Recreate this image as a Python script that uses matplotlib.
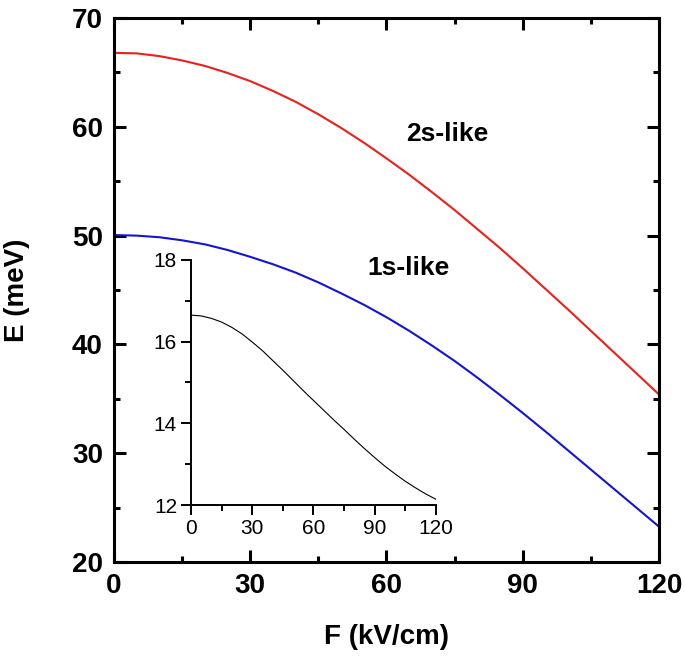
import numpy as np
import matplotlib
matplotlib.use("Agg")
import matplotlib.pyplot as plt
from matplotlib.ticker import MultipleLocator

plt.rcParams['font.family'] = ['Liberation Sans', 'DejaVu Sans']

# field values (kV/cm)
F = [0, 5, 10, 15, 20, 25, 30, 35, 40, 45, 50, 55, 60,
     65, 70, 75, 80, 85, 90, 95, 100, 105, 110, 115, 120]
# 2s-like and 1s-like energies (meV)
E_2s = [66.8, 66.75, 66.5, 66.1, 65.6, 64.95, 64.2, 63.3, 62.3, 61.15, 59.9, 58.55, 57.1,
        55.6, 54.0, 52.35, 50.6, 48.85, 47.0, 45.1, 43.2, 41.25, 39.3, 37.35, 35.4]
E_1s = [50.05, 50.0, 49.85, 49.57, 49.2, 48.68, 48.05, 47.37, 46.6, 45.7, 44.7, 43.65, 42.5,
        41.25, 39.9, 38.48, 36.95, 35.35, 33.7, 32.0, 30.25, 28.5, 26.75, 25.0, 23.25]
# inset curve
E_ins = [16.65, 16.63, 16.57, 16.48, 16.35, 16.19, 15.99, 15.78, 15.54, 15.3, 15.05, 14.8, 14.56,
         14.32, 14.08, 13.85, 13.61, 13.38, 13.16, 12.95, 12.76, 12.58, 12.42, 12.27, 12.14]

fig = plt.figure(figsize=(6.85, 6.58), dpi=100)
ax = fig.add_axes([0.1664, 0.1459, 0.7956, 0.8267])

ax.plot(F, E_2s, color='#e8211c', lw=1.5)
ax.plot(F, E_1s, color='#1414d2', lw=1.5)

ax.set_xlim(0, 120)
ax.set_ylim(20, 70)
ax.xaxis.set_major_locator(MultipleLocator(30))
ax.xaxis.set_minor_locator(MultipleLocator(15))
ax.yaxis.set_major_locator(MultipleLocator(10))
ax.yaxis.set_minor_locator(MultipleLocator(5))
ax.tick_params(which='both', direction='in', top=True, right=True, width=2.2)
ax.tick_params(which='major', length=8.5, labelsize=20, pad=8)
ax.tick_params(which='minor', length=4.5)
for s in ax.spines.values():
    s.set_linewidth(2.2)
for lab in ax.get_xticklabels() + ax.get_yticklabels():
    lab.set_fontweight('bold')

ax.set_xlabel('F (kV/cm)', fontsize=20, fontweight='bold', labelpad=18)
ax.set_ylabel('E (meV)', fontsize=20, fontweight='bold', labelpad=30)

ax.text(73.3, 59.3, '2s-like', fontsize=19, fontweight='bold', ha='center', va='center')
ax.text(64.8, 47.0, '1s-like', fontsize=19, fontweight='bold', ha='center', va='center')

# inset
ins = fig.add_axes([0.2788, 0.2325, 0.3577, 0.3724])
ins.plot(F, E_ins, color='black', lw=0.8)
ins.set_xlim(0, 120)
ins.set_ylim(12, 18)
ins.xaxis.set_major_locator(MultipleLocator(30))
ins.xaxis.set_minor_locator(MultipleLocator(15))
ins.yaxis.set_major_locator(MultipleLocator(2))
ins.yaxis.set_minor_locator(MultipleLocator(1))
ins.spines['top'].set_visible(False)
ins.spines['right'].set_visible(False)
for s in ['left', 'bottom']:
    ins.spines[s].set_linewidth(1.4)
ins.tick_params(which='both', direction='out', width=1.4)
ins.tick_params(which='major', length=7, labelsize=15, pad=3)
ins.tick_params(which='minor', length=4)
ins.patch.set_alpha(0)

fig.savefig('out.png', dpi=100)
